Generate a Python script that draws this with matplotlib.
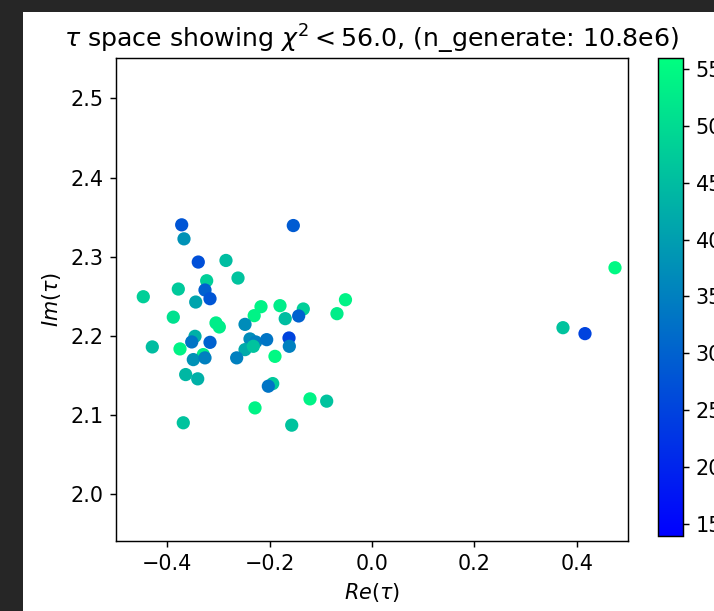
import matplotlib
matplotlib.use("Agg")
import matplotlib.pyplot as plt
from matplotlib.patches import Rectangle
import numpy as np

# points in tau space, with their chi^2 values
re_tau = [-0.3717, -0.3672, -0.3393, -0.2852, -0.3229, -0.3783, -0.4467, -0.3262,
          -0.3164, -0.3443, -0.3881, -0.2617, -0.1537, -0.2168, -0.1797, -0.1342,
          -0.1432, -0.0684, -0.0518, -0.1695, -0.2301, -0.3047, -0.2982, -0.2480,
          -0.4291, -0.3750, -0.3457, -0.3521, -0.3164, -0.3295, -0.3490, -0.3262,
          -0.3639, -0.3404, -0.3686, -0.2383, -0.2271, -0.2057, -0.2480, -0.2318,
          -0.2643, -0.1621, -0.1615, -0.1895, -0.1939, -0.2025, -0.1211, -0.0885,
          -0.2285, -0.1568, 0.3730, 0.4160, 0.4746]
im_tau = [2.3403, 2.3226, 2.2933, 2.2953, 2.2697, 2.2592, 2.2495, 2.2580,
          2.2470, 2.2428, 2.2237, 2.2731, 2.3394, 2.2369, 2.2382, 2.2340,
          2.2252, 2.2281, 2.2457, 2.2218, 2.2256, 2.2164, 2.2113, 2.2146,
          2.1861, 2.1836, 2.1995, 2.1924, 2.1919, 2.1764, 2.1701, 2.1723,
          2.1512, 2.1458, 2.0903, 2.1962, 2.1924, 2.1953, 2.1827, 2.1869,
          2.1723, 2.1974, 2.1869, 2.1742, 2.1398, 2.1365, 2.1205, 2.1176,
          2.1091, 2.0873, 2.2104, 2.2029, 2.2861]
chi2 = [28, 38, 27, 45, 48, 47, 48, 30,
        28, 41, 51, 46, 29, 54, 53, 48,
        30, 53, 54, 45, 54, 53, 53, 37,
        45, 54, 43, 33, 30, 53, 38, 35,
        44, 43, 46, 37, 35, 33, 42, 46,
        35, 25, 35, 55, 47, 33, 54, 46,
        54, 46, 46, 25, 55]

chi2_cut = 56.0
chi2_min = 13.9

plt.rcParams['font.size'] = 11.5
plt.rcParams['axes.titlesize'] = 14

fig = plt.figure(figsize=(714/130, 611/130), dpi=130, facecolor='#262626')
# white page area of the screenshot
fig.patches.append(Rectangle((23/714, 0), 1, 1 - 12/611, transform=fig.transFigure,
                             facecolor='white', edgecolor='none', zorder=-10))

ax = fig.add_axes([116/714, 70/611, 512/714, 483/611])
cax = fig.add_axes([658/714, 75/611, 25/714, 478/611])

sc = ax.scatter(re_tau, im_tau, c=chi2, cmap='winter', vmin=chi2_min, vmax=chi2_cut, s=40)
ax.set_xlim(-0.5, 0.5)
ax.set_ylim(1.941, 2.551)
ax.set_xticks([-0.4, -0.2, 0.0, 0.2, 0.4])
ax.set_yticks([2.0, 2.1, 2.2, 2.3, 2.4, 2.5])
ax.set_xlabel(r'$Re(\tau)$')
ax.set_ylabel(r'$Im(\tau)$')
ax.set_title(r'$\tau$ space showing $\chi^2 < 56.0$, (n_generate: 10.8e6)')

fig.colorbar(sc, cax=cax, ticks=[15, 20, 25, 30, 35, 40, 45, 50, 55])

fig.savefig('out.png', dpi=130, facecolor=fig.get_facecolor())
